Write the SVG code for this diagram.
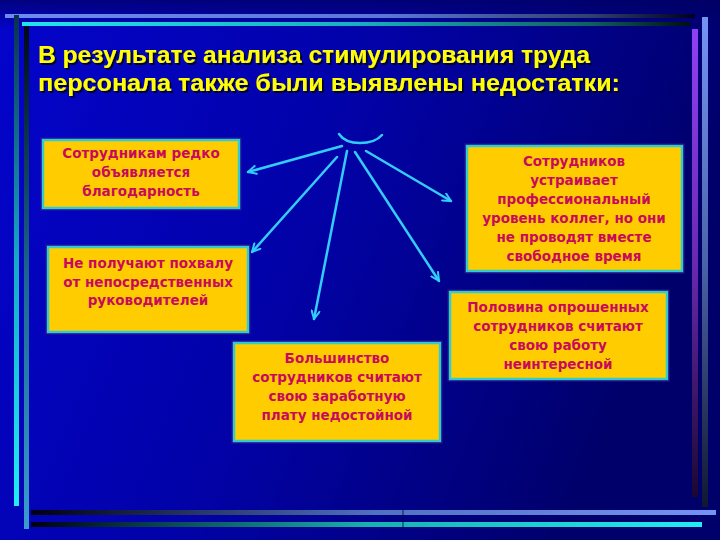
<svg xmlns="http://www.w3.org/2000/svg" width="720" height="540" viewBox="0 0 720 540">
<defs>
<linearGradient id="bg" x1="0" y1="0" x2="1" y2="0.3">
<stop offset="0" stop-color="#0404CC"/>
<stop offset="0.5" stop-color="#0202A8"/>
<stop offset="1" stop-color="#00006A"/>
</linearGradient>
<linearGradient id="topfade" x1="0" y1="0" x2="0" y2="1">
<stop offset="0" stop-color="#000060" stop-opacity="0.7"/>
<stop offset="1" stop-color="#000060" stop-opacity="0"/>
</linearGradient>
<linearGradient id="gTop1" x1="0" y1="0" x2="1" y2="0">
<stop offset="0" stop-color="#6C8CF0"/>
<stop offset="0.55" stop-color="#5A78D8"/>
<stop offset="0.85" stop-color="#304070"/>
<stop offset="1" stop-color="#000020"/>
</linearGradient>
<linearGradient id="gTop2" x1="0" y1="0" x2="1" y2="0">
<stop offset="0" stop-color="#22E4EC"/>
<stop offset="0.5" stop-color="#18B0C0"/>
<stop offset="0.85" stop-color="#106060"/>
<stop offset="1" stop-color="#001010"/>
</linearGradient>
<linearGradient id="gLeft1" x1="0" y1="0" x2="0" y2="1">
<stop offset="0" stop-color="#0A3050"/>
<stop offset="0.5" stop-color="#18A8C8"/>
<stop offset="1" stop-color="#22EEF8"/>
</linearGradient>
<linearGradient id="gLeft2" x1="0" y1="0" x2="0" y2="1">
<stop offset="0" stop-color="#000818"/>
<stop offset="0.5" stop-color="#1A6890"/>
<stop offset="1" stop-color="#3A9CD0"/>
</linearGradient>
<linearGradient id="gBot1" x1="0" y1="0" x2="1" y2="0">
<stop offset="0" stop-color="#000010"/>
<stop offset="0.5" stop-color="#5070C0"/>
<stop offset="1" stop-color="#7494F4"/>
</linearGradient>
<linearGradient id="gBot2" x1="0" y1="0" x2="1" y2="0">
<stop offset="0" stop-color="#000010"/>
<stop offset="0.5" stop-color="#18B0B0"/>
<stop offset="1" stop-color="#22ECF4"/>
</linearGradient>
<linearGradient id="gRight1" x1="0" y1="0" x2="0" y2="1">
<stop offset="0" stop-color="#9040F4"/>
<stop offset="0.5" stop-color="#6A28B0"/>
<stop offset="1" stop-color="#1A0830"/>
</linearGradient>
<linearGradient id="gRight2" x1="0" y1="0" x2="0" y2="1">
<stop offset="0" stop-color="#7494F4"/>
<stop offset="0.5" stop-color="#4A64A8"/>
<stop offset="1" stop-color="#101830"/>
</linearGradient>
<filter id="tshadow" x="-5%" y="-30%" width="110%" height="160%">
<feDropShadow dx="2" dy="2" stdDeviation="0.4" flood-color="#000030" flood-opacity="1"/>
</filter>
<marker id="arr" viewBox="0 0 10 10" refX="9" refY="5" markerWidth="10" markerHeight="10" markerUnits="userSpaceOnUse" orient="auto">
<path d="M1,1 L9,5 L1,9" fill="none" stroke="#33CCFF" stroke-width="2" stroke-linecap="round"/>
</marker>
</defs>
<style>
.title{font-family:"Liberation Sans",Arial,sans-serif;font-weight:bold;font-size:23px;fill:#FFFF00;filter:url(#tshadow)}
.box{fill:#FFCC00;stroke:#33CCCC;stroke-width:2.5}
.boxout{fill:none;stroke:#3A1090;stroke-width:1}
.lbl{font-family:"DejaVu Sans","Liberation Sans",sans-serif;font-weight:bold;font-size:13.5px;fill:#C80A5C;text-anchor:middle}
.conn{fill:none;stroke:#33CCFF;stroke-width:2.5;stroke-linecap:round}
</style>

<rect x="0" y="0" width="720" height="540" fill="url(#bg)"/>
<rect x="0" y="0" width="720" height="30" fill="url(#topfade)"/>

<g id="frame">
<rect x="5" y="14" width="690" height="4" fill="url(#gTop1)"/>
<rect x="22" y="22" width="668" height="4" fill="url(#gTop2)"/>
<rect x="14" y="15" width="5" height="491" fill="url(#gLeft1)"/>
<rect x="24" y="26" width="5" height="503" fill="url(#gLeft2)"/>
<rect x="692" y="29" width="6" height="468" fill="url(#gRight1)"/>
<rect x="702" y="17" width="6" height="490" fill="url(#gRight2)"/>
<rect x="31" y="510" width="685" height="5" fill="url(#gBot1)"/>
<rect x="31" y="522" width="671" height="5" fill="url(#gBot2)"/>
<line x1="403" y1="509" x2="403" y2="528" stroke="#000040" stroke-width="0.8"/>
</g>

<g id="title">
<text class="title" x="38" y="63" textLength="552" lengthAdjust="spacingAndGlyphs">В результате анализа стимулирования труда</text>
<text class="title" x="38" y="91" textLength="582" lengthAdjust="spacingAndGlyphs">персонала также были выявлены недостатки:</text>
</g>

<g id="connectors">
<path class="conn" d="M339,134 Q345,143 360,143 Q375,143 382,135"/>
<line class="conn" x1="342" y1="146" x2="248" y2="172" marker-end="url(#arr)"/>
<line class="conn" x1="337" y1="157" x2="252" y2="252" marker-end="url(#arr)"/>
<line class="conn" x1="347" y1="151" x2="314" y2="319" marker-end="url(#arr)"/>
<line class="conn" x1="355" y1="152" x2="439" y2="281" marker-end="url(#arr)"/>
<line class="conn" x1="366" y1="151" x2="451" y2="201" marker-end="url(#arr)"/>
</g>

<g id="node1">
<rect class="boxout" x="41" y="138" width="200" height="72"/>
<rect class="box" x="43" y="140" width="196" height="68"/>
<text class="lbl" x="141" y="158">Сотрудникам редко</text>
<text class="lbl" x="141" y="177">объявляется</text>
<text class="lbl" x="141" y="196">благодарность</text>
</g>

<g id="node2">
<rect class="boxout" x="46" y="245" width="204" height="89"/>
<rect class="box" x="48" y="247" width="200" height="85"/>
<text class="lbl" x="148" y="268">Не получают похвалу</text>
<text class="lbl" x="148" y="287">от непосредственных</text>
<text class="lbl" x="148" y="305">руководителей</text>
</g>

<g id="node3">
<rect class="boxout" x="465" y="144" width="219" height="129"/>
<rect class="box" x="467" y="146" width="215" height="125"/>
<text class="lbl" x="574" y="166">Сотрудников</text>
<text class="lbl" x="574" y="185">устраивает</text>
<text class="lbl" x="574" y="204">профессиональный</text>
<text class="lbl" x="574" y="223">уровень коллег, но они</text>
<text class="lbl" x="574" y="242">не проводят вместе</text>
<text class="lbl" x="574" y="261">свободное время</text>
</g>

<g id="node4">
<rect class="boxout" x="448" y="290" width="221" height="91"/>
<rect class="box" x="450" y="292" width="217" height="87"/>
<text class="lbl" x="558" y="312">Половина опрошенных</text>
<text class="lbl" x="558" y="331">сотрудников считают</text>
<text class="lbl" x="558" y="350">свою работу</text>
<text class="lbl" x="558" y="369">неинтересной</text>
</g>

<g id="node5">
<rect class="boxout" x="232" y="341" width="210" height="102"/>
<rect class="box" x="234" y="343" width="206" height="98"/>
<text class="lbl" x="337" y="363">Большинство</text>
<text class="lbl" x="337" y="382">сотрудников считают</text>
<text class="lbl" x="337" y="401">свою заработную</text>
<text class="lbl" x="337" y="420">плату недостойной</text>
</g>
</svg>
